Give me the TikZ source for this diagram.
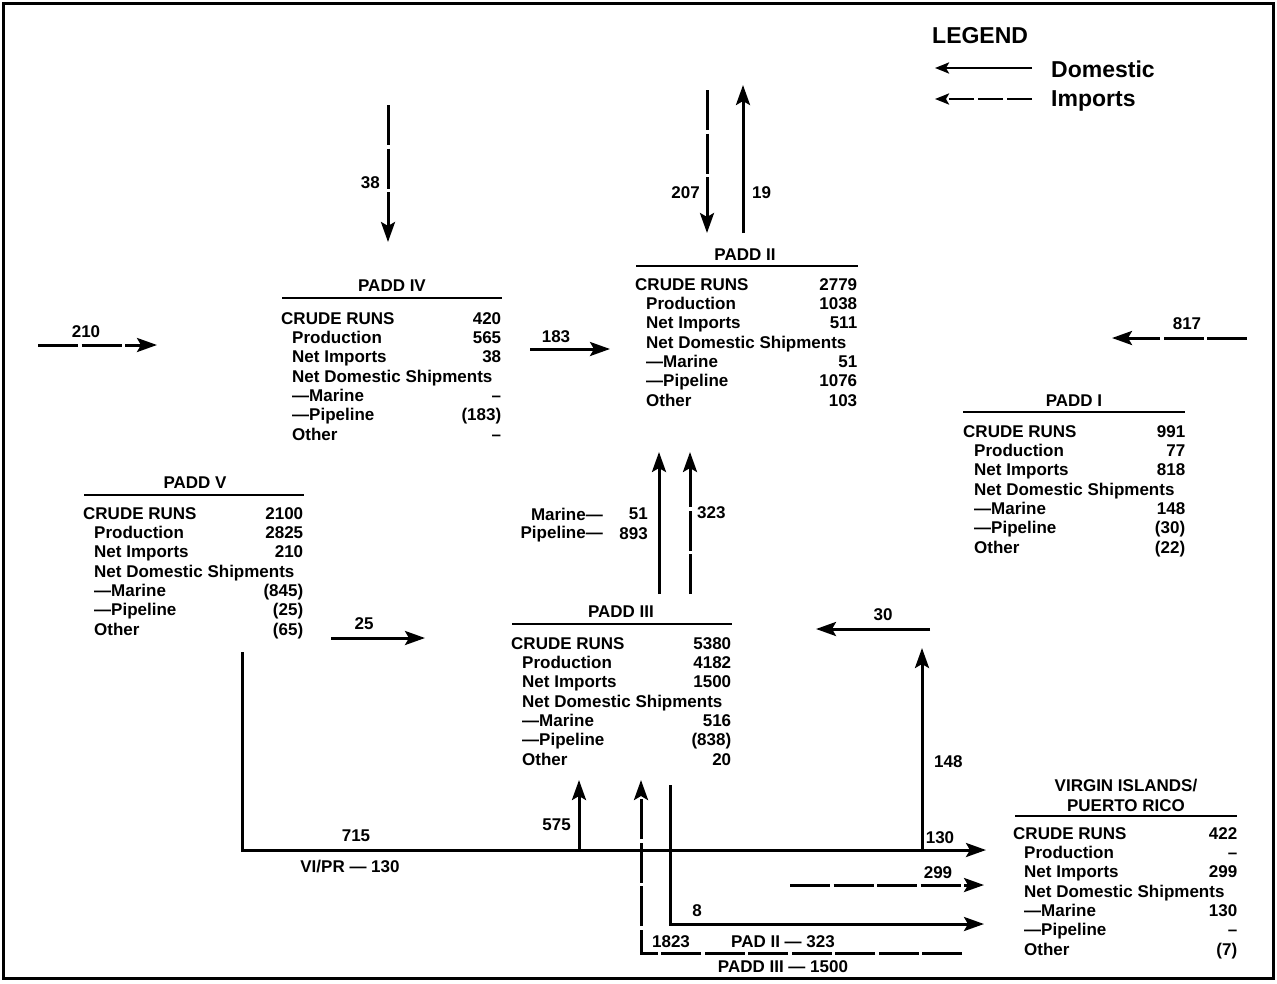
\documentclass[tikz,border=0pt]{standalone}
\usepackage{fontspec}
\setmainfont{Liberation Sans}
\usetikzlibrary{arrows.meta}
\newcommand{\paddtab}[7]{%
\begin{tabular*}{#1pt}{@{}l@{\extracolsep{\fill}}r@{}}
CRUDE RUNS & #2\\
\hspace{11pt}Production & #3\\
\hspace{11pt}Net Imports & #4\\
\multicolumn{2}{@{}l@{}}{\hspace{11pt}Net Domestic Shipments}\\
\hspace{11pt}—Marine & #5\\
\hspace{11pt}—Pipeline & #6\\
\hspace{11pt}Other & #7
\end{tabular*}}
\begin{document}
\begin{tikzpicture}[x=1pt,y=-1pt,
  txt/.style={font=\bfseries\fontsize{17}{19.3}\selectfont, inner sep=0pt},
  blk/.style={txt, anchor=north west},
  legtxt/.style={font=\bfseries\fontsize{23}{26}\selectfont, inner sep=0pt, anchor=west},
  rul/.style={line width=2.4pt},
  dom/.style={line width=3pt, -{Stealth[length=20pt,width=14pt,inset=4pt]}},
  imp/.style={dom, dash pattern=on 40pt off 3.5pt},
  legdom/.style={line width=2.6pt, -{Stealth[length=14pt,width=11pt,inset=3pt]}},
  legimp/.style={legdom, dash pattern=on 25pt off 4pt},
]
\useasboundingbox (0,0) rectangle (1277,983);
\fill[white] (0,0) rectangle (1277,983);
\draw[line width=3pt] (3,3) rectangle (1273,978);

% legend
\node[legtxt] (legend) at (932,36) {LEGEND};
\node[legtxt] (ldomt) at (1051,69) {Domestic};
\node[legtxt] (limpt) at (1051,101) {Imports};
\coordinate (ld1) at (1032,68); \coordinate (ld2) at (935,68);
\coordinate (li1) at (1032,99); \coordinate (li2) at (935,99);
\draw[legdom] (ld1) -- (ld2);
\draw[legimp] (li1) -- (li2);

% PADD IV
\node[txt] (p4t) at (392,286) {PADD IV};
\draw[rul] (282,298) -- (502,298);
\node[blk] (p4) at (281,310.6) {\paddtab{220}{420}{565}{38}{–}{(183)}{–}};
% PADD II
\node[txt] (p2t) at (745,255) {PADD II};
\draw[rul] (636,266) -- (858,266);
\node[blk] (p2) at (635,276.6) {\paddtab{222}{2779}{1038}{511}{51}{1076}{103}};
% PADD I
\node[txt] (p1t) at (1074,401) {PADD I};
\draw[rul] (963,412) -- (1185,412);
\node[blk] (p1) at (963,423.6) {\paddtab{222}{991}{77}{818}{148}{(30)}{(22)}};
% PADD V
\node[txt] (p5t) at (195,483) {PADD V};
\draw[rul] (84,495) -- (304,495);
\node[blk] (p5) at (83,505.6) {\paddtab{220}{2100}{2825}{210}{(845)}{(25)}{(65)}};
% PADD III
\node[txt] (p3t) at (621,612) {PADD III};
\draw[rul] (512,624) -- (732,624);
\node[blk] (p3) at (511,635.6) {\paddtab{220}{5380}{4182}{1500}{516}{(838)}{20}};
% VI/PR
\node[txt, align=center] (vit) at (1126,795.5) {VIRGIN ISLANDS/\\PUERTO RICO};
\draw[rul] (1015,816) -- (1237,816);
\node[blk] (vi) at (1013,825.6) {\paddtab{224}{422}{–}{299}{130}{–}{(7)}};

% arrows
\coordinate (a38s) at (388,105); \coordinate (a38e) at (388,242);
\draw[imp] (a38s) -- (a38e);
\node[txt, anchor=east] (l38) at (380,183) {38};

\coordinate (a207s) at (707,90); \coordinate (a207e) at (707,233);
\draw[imp] (a207s) -- (a207e);
\node[txt, anchor=east] (l207) at (700,193) {207};

\coordinate (a19s) at (743,233); \coordinate (a19e) at (743,85);
\draw[dom] (a19s) -- (a19e);
\node[txt, anchor=west] (l19) at (752,193) {19};

\coordinate (a210s) at (38,345); \coordinate (a210e) at (157,345);
\draw[imp] (a210s) -- (a210e);
\node[txt] (l210) at (86,332) {210};

\coordinate (a183s) at (530,349); \coordinate (a183e) at (610,349);
\draw[dom] (a183s) -- (a183e);
\node[txt] (l183) at (556,337) {183};

\coordinate (a817s) at (1247,338); \coordinate (a817e) at (1112,338);
\draw[imp] (a817s) -- (a817e);
\node[txt] (l817) at (1187,324) {817};

\coordinate (amars) at (659,594); \coordinate (amare) at (659,452);
\draw[dom] (amars) -- (amare);
\node[txt, anchor=east] (lmar) at (603,514) {Marine—};
\node[txt, anchor=east] (l51) at (648,514) {51};
\node[txt, anchor=east] (lpip) at (603,534) {Pipeline—};
\node[txt, anchor=east] (l893) at (648,534) {893};

\coordinate (a323s) at (690,594); \coordinate (a323e) at (690,452);
\draw[imp] (a323s) -- (a323e);
\node[txt, anchor=west] (l323) at (697,513) {323};

\coordinate (a25s) at (331,638); \coordinate (a25e) at (425,638);
\draw[dom] (a25s) -- (a25e);
\node[txt] (l25) at (364,624) {25};

\coordinate (a30s) at (930,629); \coordinate (a30e) at (816,629);
\draw[dom] (a30s) -- (a30e);
\node[txt] (l30) at (883,615) {30};

\coordinate (a148s) at (922,850); \coordinate (a148e) at (922,648);
\draw[dom] (a148s) -- (a148e);
\node[txt, anchor=west] (l148) at (934,762) {148};

\coordinate (bigs) at (242,652); \coordinate (bigc) at (242,850); \coordinate (bige) at (986,850);
\draw[dom] (bigs) -- (bigc) -- (bige);
\node[txt] (l715) at (356,836) {715};
\node[txt] (lvipr) at (350,866) {VI/PR — 130};
\node[txt] (l130) at (940,838) {130};

\coordinate (a575s) at (579,850); \coordinate (a575e) at (579,780);
\draw[dom] (a575s) -- (a575e);
\node[txt, anchor=east] (l575) at (571,825) {575};

\coordinate (a1823s) at (962,953); \coordinate (a1823c) at (641,953); \coordinate (a1823e) at (641,780);
\draw[imp] (a1823s) -- (a1823c) -- (a1823e);
\node[txt] (l1823) at (671,942) {1823};
\node[txt] (lpad2) at (783,942) {PAD II — 323};
\node[txt] (lpad3) at (783,967) {PADD III — 1500};

\coordinate (a8s) at (670,785); \coordinate (a8c) at (670,924); \coordinate (a8e) at (984,924);
\draw[dom] (a8s) -- (a8c) -- (a8e);
\node[txt] (l8) at (697,911) {8};

\coordinate (a299s) at (790,885); \coordinate (a299e) at (984,885);
\draw[imp] (a299s) -- (a299e);
\node[txt] (l299) at (938,873) {299};
\end{tikzpicture}
\end{document}
